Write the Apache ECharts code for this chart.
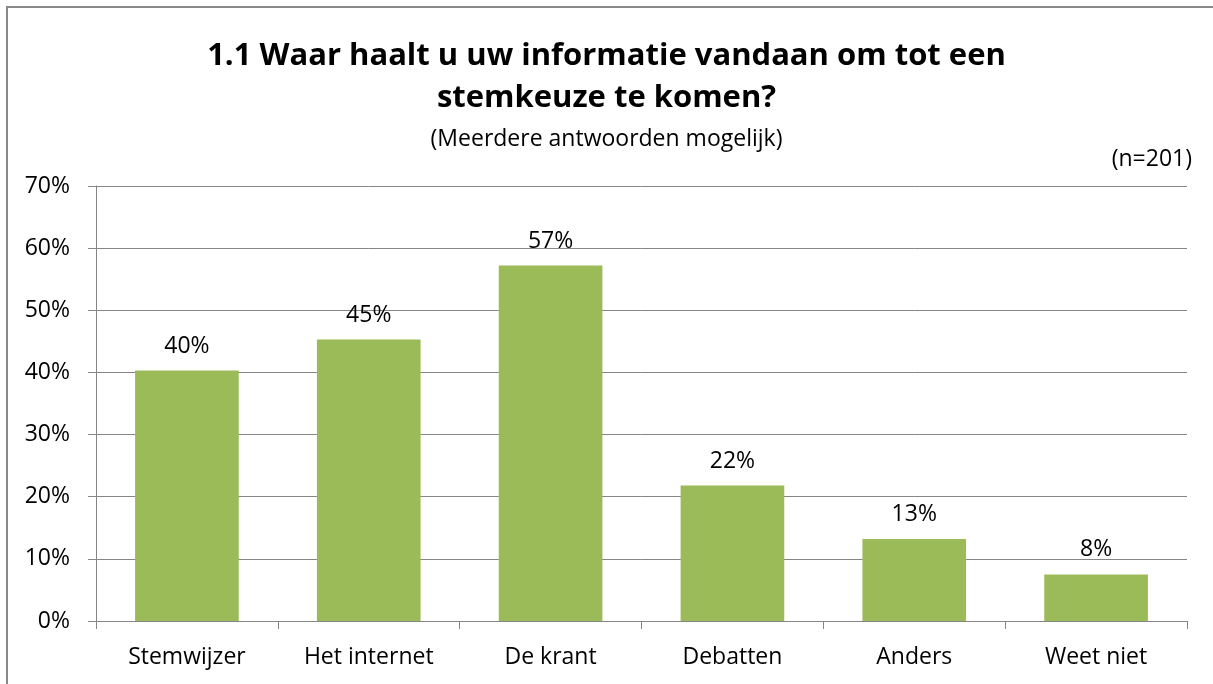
<!DOCTYPE html>
<html>
<head>
<meta charset="utf-8">
<script src="https://cdn.jsdelivr.net/npm/echarts@6/dist/echarts.min.js"></script>
<style>
html,body{margin:0;padding:0;background:#fff;}
#chart{width:1213px;height:684px;}
</style>
</head>
<body>
<div id="chart"></div>
<script>
const categories = ['Stemwijzer', 'Het internet', 'De krant', 'Debatten', 'Anders', 'Weet niet'];
const values = [40.3, 45.3, 57.2, 21.8, 13.2, 7.5];
const yTicks = [0, 10, 20, 30, 40, 50, 60, 70];
const titleText = '1.1 Waar haalt u uw informatie vandaan om tot een\nstemkeuze te komen?';
const subtitleText = '(Meerdere antwoorden mogelijk)';
const nText = '(n=201)';

const FONT = 'Open Sans';
const chart = echarts.init(document.getElementById('chart'));
chart.setOption({
  backgroundColor: '#fff',
  animation: false,
  title: [
    { text: titleText, left: 'center', top: 30,
      textStyle: { fontFamily: FONT, fontWeight: 'bold', fontSize: 31, lineHeight: 42, color: '#000' } },
    { text: subtitleText, left: 'center', top: 123,
      textStyle: { fontFamily: FONT, fontWeight: 'normal', fontSize: 23, color: '#000' } },
    { text: nText, right: 16, top: 143,
      textStyle: { fontFamily: FONT, fontWeight: 'normal', fontSize: 23, color: '#000' } }
  ],
  graphic: [{
    type: 'polyline', silent: true,
    shape: { points: [[1240, 7], [7, 7], [7, 720]] },
    style: { fill: 'none', stroke: '#898989', lineWidth: 2 }
  }],
  grid: { left: 96, right: 26, top: 186, bottom: 63, containLabel: false },
  xAxis: {
    type: 'category', data: categories,
    axisLine: { lineStyle: { color: '#868686', width: 1 } },
    axisTick: { show: true, alignWithLabel: false, length: 8, lineStyle: { color: '#868686' } },
    axisLabel: { fontFamily: FONT, fontSize: 23, color: '#000', margin: 25 }
  },
  yAxis: {
    type: 'value', min: yTicks[0], max: yTicks[yTicks.length - 1], interval: 10,
    axisLine: { show: true, lineStyle: { color: '#868686', width: 1 } },
    axisTick: { show: true, length: 8, lineStyle: { color: '#868686' } },
    splitLine: { lineStyle: { color: '#868686', width: 1 } },
    axisLabel: { fontFamily: FONT, fontSize: 23, color: '#000', margin: 26,
      formatter: v => v + '%' }
  },
  series: [{
    type: 'bar', data: values, barWidth: '57%',
    itemStyle: { color: '#9BBB59' },
    label: { show: true, position: 'top', distance: 13,
      fontFamily: FONT, fontSize: 23, color: '#000',
      formatter: p => Math.round(p.value) + '%' }
  }]
});
</script>
</body>
</html>
